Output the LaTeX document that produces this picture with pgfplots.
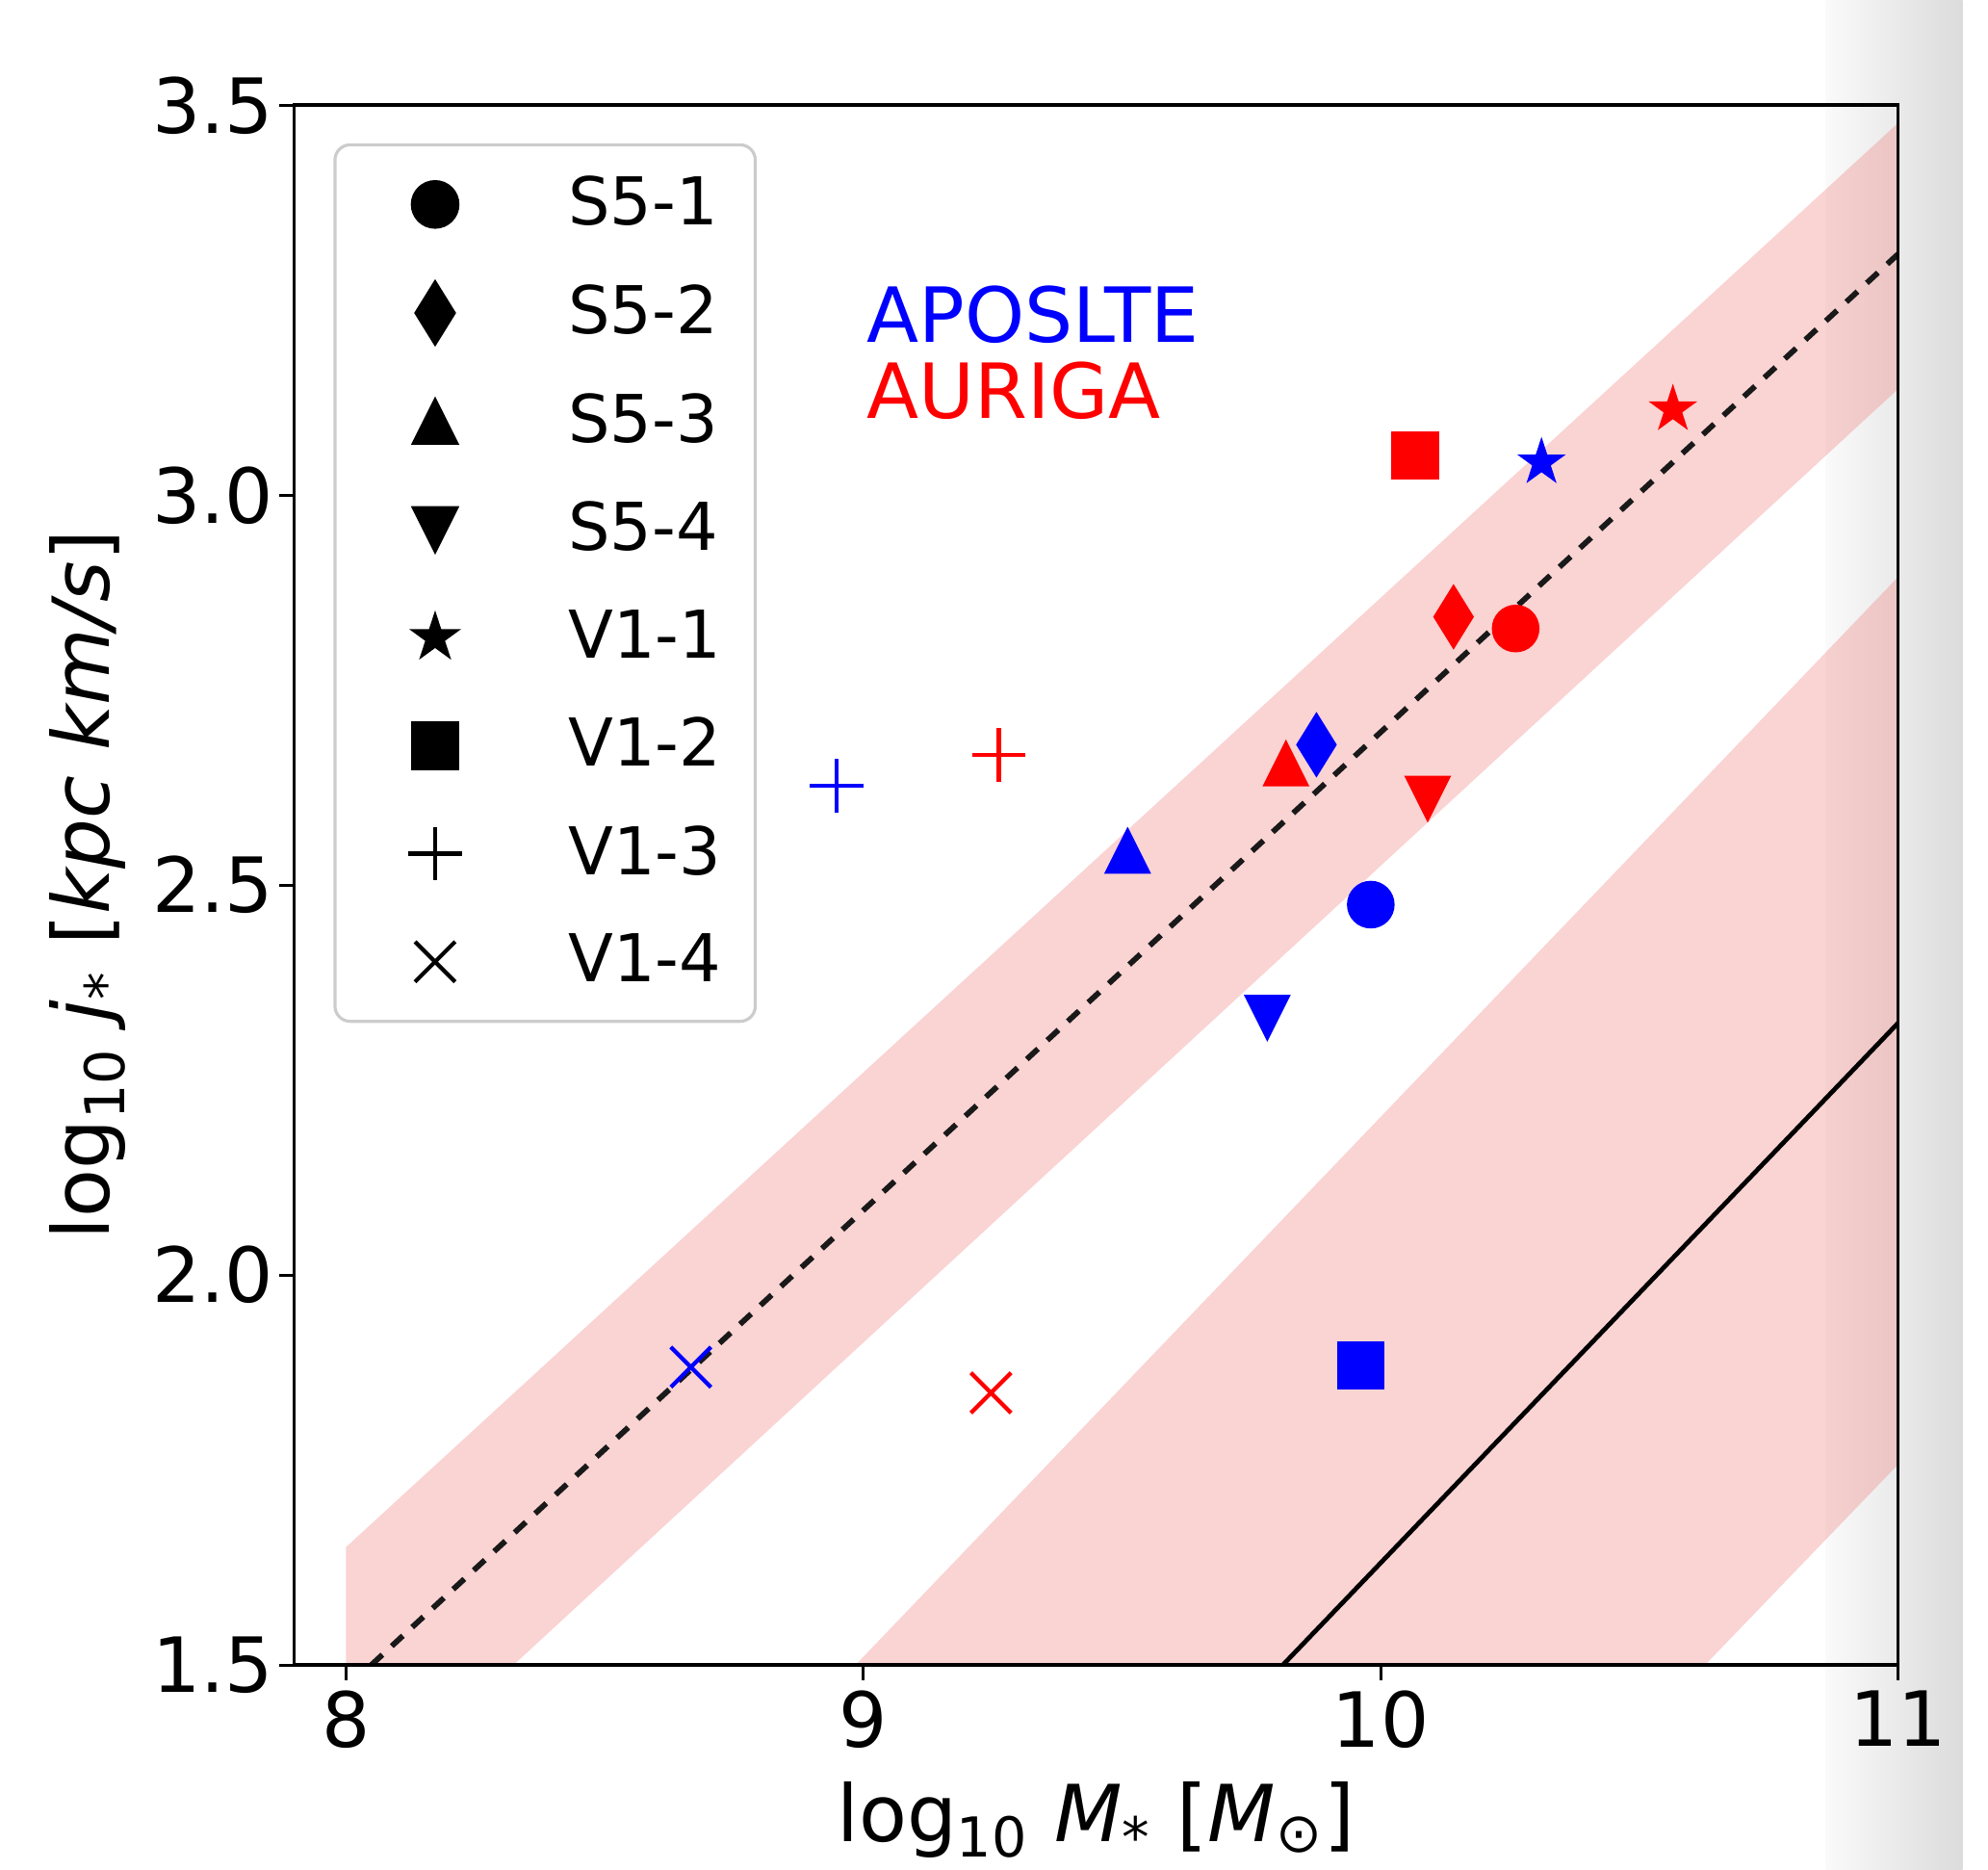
\documentclass[border=0pt]{standalone}
\usepackage{pgfplots}
\pgfplotsset{compat=1.18}
\usepackage{fontspec}
\setmainfont{DejaVu Sans}
\usetikzlibrary{plotmarks}

\definecolor{lcoral}{RGB}{240,128,128}
\definecolor{legedge}{RGB}{204,204,204}

\pgfdeclareplotmark{mtriup}{%
  \pgfpathmoveto{\pgfqpoint{0pt}{\pgfplotmarksize}}%
  \pgfpathlineto{\pgfqpoint{\pgfplotmarksize}{-\pgfplotmarksize}}%
  \pgfpathlineto{\pgfqpoint{-\pgfplotmarksize}{-\pgfplotmarksize}}%
  \pgfpathclose\pgfusepathqfillstroke}
\pgfdeclareplotmark{mtridown}{%
  \pgfpathmoveto{\pgfqpoint{0pt}{-\pgfplotmarksize}}%
  \pgfpathlineto{\pgfqpoint{\pgfplotmarksize}{\pgfplotmarksize}}%
  \pgfpathlineto{\pgfqpoint{-\pgfplotmarksize}{\pgfplotmarksize}}%
  \pgfpathclose\pgfusepathqfillstroke}
\pgfdeclareplotmark{mdiamond}{%
  \pgfpathmoveto{\pgfqpoint{0pt}{\pgfplotmarksize}}%
  \pgfpathlineto{\pgfqpoint{0.62\pgfplotmarksize}{0pt}}%
  \pgfpathlineto{\pgfqpoint{0pt}{-\pgfplotmarksize}}%
  \pgfpathlineto{\pgfqpoint{-0.62\pgfplotmarksize}{0pt}}%
  \pgfpathclose\pgfusepathqfillstroke}
\pgfdeclareplotmark{mstar}{%
  \pgfpathmoveto{\pgfpointpolar{90}{\pgfplotmarksize}}%
  \pgfpathlineto{\pgfpointpolar{126}{0.382\pgfplotmarksize}}%
  \pgfpathlineto{\pgfpointpolar{162}{\pgfplotmarksize}}%
  \pgfpathlineto{\pgfpointpolar{198}{0.382\pgfplotmarksize}}%
  \pgfpathlineto{\pgfpointpolar{234}{\pgfplotmarksize}}%
  \pgfpathlineto{\pgfpointpolar{270}{0.382\pgfplotmarksize}}%
  \pgfpathlineto{\pgfpointpolar{306}{\pgfplotmarksize}}%
  \pgfpathlineto{\pgfpointpolar{342}{0.382\pgfplotmarksize}}%
  \pgfpathlineto{\pgfpointpolar{18}{\pgfplotmarksize}}%
  \pgfpathlineto{\pgfpointpolar{54}{0.382\pgfplotmarksize}}%
  \pgfpathclose\pgfusepathqfillstroke}

\tikzset{
  mk1/.style={mark=*, mark size=4.5pt},
  mk2/.style={mark=mdiamond, mark size=6.1pt},
  mk3/.style={mark=mtriup, mark size=4.3pt},
  mk4/.style={mark=mtridown, mark size=4.3pt},
  mk5/.style={mark=mstar, mark size=4.4pt},
  mk6/.style={mark=square*, mark size=4.5pt},
  mk7/.style={mark=+, mark size=5.3pt, mark options={line width=0.8pt}},
  mk8/.style={mark=x, mark size=5.6pt, mark options={line width=0.8pt}},
}

\begin{document}
\begin{tikzpicture}
\path[use as bounding box] (-58pt,-40.25pt) rectangle (334pt,328.25pt);
\shade[left color=white!98!black, right color=white!86!black] (302pt,-40.25pt) rectangle (329pt,328.25pt);
\begin{axis}[
  at={(0pt,0pt)}, anchor=south west,
  scale only axis, width=316.25pt, height=307.5pt,
  xmin=7.9, xmax=11, ymin=1.5, ymax=3.5,
  xtick={8,9,10,11}, ytick={1.5,2,2.5,3,3.5},
  tick pos=left, tick align=outside, major tick length=3pt,
  every tick/.style={black, line width=0.6pt},
  axis line style={black, line width=0.7pt},
  axis on top,
  /pgf/number format/assume math mode=true,
  ticklabel style={font=\fontsize{15}{15}\selectfont},
  y tick label style={xshift=2.5pt, /pgf/number format/fixed, /pgf/number format/fixed zerofill, /pgf/number format/precision=1},
  x tick label style={yshift=1.5pt},
  xlabel={log\textsubscript{10} \textit{M}\textsubscript{*} [\textit{M}\textsubscript{⊙}]},
  ylabel={log\textsubscript{10} \textit{j}\textsubscript{*} [\textit{kpc km/s}]},
  xlabel style={at={(axis description cs:0.5,-0.113)}, anchor=base, font=\fontsize{15.5}{15.5}\selectfont},
  ylabel style={at={(axis description cs:-0.1154,0.5)}, anchor=base, font=\fontsize{15.5}{15.5}\selectfont},
  legend image code/.code={%
    \draw[sharp corners, opacity=1, #1] plot coordinates {(0pt,0pt)};
    \path[draw=none, fill=none] (-13pt,-6pt) rectangle (12pt,6pt);
  },
  legend cell align=left,
  legend style={
    at={(axis description cs:0.0245,0.9756)}, anchor=north west,
    draw=legedge, line width=0.6pt, rounded corners=3pt, fill=white,
    inner xsep=6.75pt, inner ysep=5.75pt, row sep=9.3pt,
    nodes={inner sep=0pt},
    font=\fontsize{13}{13}\selectfont,
    /tikz/every odd column/.append style={column sep=14.25pt},
  },
]
% bands
\addplot[draw=none, fill=lcoral, fill opacity=0.35, forget plot] coordinates {(8,1.651) (11,3.477) (11,3.136) (8,1.302)};
\addplot[draw=none, fill=lcoral, fill opacity=0.35, forget plot] coordinates {(8.985,1.5) (11,2.895) (11,1.757) (10.627,1.5)};

% APOSTLE (blue)
\addplot[only marks, blue, mk1, forget plot] coordinates {(9.981,2.475)};
\addplot[only marks, blue, mk2, forget plot] coordinates {(9.876,2.680)};
\addplot[only marks, blue, mk3, forget plot] coordinates {(9.511,2.544)};
\addplot[only marks, blue, mk4, forget plot] coordinates {(9.781,2.330)};
\addplot[only marks, blue, mk5, forget plot] coordinates {(10.311,3.042)};
\addplot[only marks, blue, mk6, forget plot] coordinates {(9.962,1.884)};
\addplot[only marks, blue, mk7, forget plot] coordinates {(8.948,2.627)};
\addplot[only marks, blue, mk8, forget plot] coordinates {(8.667,1.882)};

% AURIGA (red)
\addplot[only marks, red, mk1, forget plot] coordinates {(10.261,2.829)};
\addplot[only marks, red, mk2, forget plot] coordinates {(10.141,2.844)};
\addplot[only marks, red, mk3, forget plot] coordinates {(9.817,2.656)};
\addplot[only marks, red, mk4, forget plot] coordinates {(10.091,2.611)};
\addplot[only marks, red, mk5, forget plot] coordinates {(10.565,3.110)};
\addplot[only marks, red, mk6, forget plot] coordinates {(10.067,3.051)};
\addplot[only marks, red, mk7, forget plot] coordinates {(9.262,2.667)};
\addplot[only marks, red, mk8, forget plot] coordinates {(9.247,1.849)};

% relations
\addplot[black!90, line width=1.1pt, dash pattern=on 3pt off 2.5pt, forget plot] coordinates {(8.049,1.5) (11,3.309)};
\addplot[black, line width=0.9pt, forget plot] coordinates {(9.811,1.5) (11,2.323)};

\node[anchor=base west, inner sep=0pt, text=blue, font=\fontsize{15}{15}\selectfont] at (axis cs:9.005,3.196) {APOSLTE};
\node[anchor=base west, inner sep=0pt, text=red, font=\fontsize{15}{15}\selectfont] at (axis cs:9.005,3.098) {AURIGA};

% legend (black markers)
\addlegendimage{black, mk1} \addlegendentry{S5-1}
\addlegendimage{black, mk2} \addlegendentry{S5-2}
\addlegendimage{black, mk3} \addlegendentry{S5-3}
\addlegendimage{black, mk4} \addlegendentry{S5-4}
\addlegendimage{black, mk5} \addlegendentry{V1-1}
\addlegendimage{black, mk6} \addlegendentry{V1-2}
\addlegendimage{black, mk7} \addlegendentry{V1-3}
\addlegendimage{black, mk8} \addlegendentry{V1-4}
\end{axis}
\end{tikzpicture}
\end{document}
